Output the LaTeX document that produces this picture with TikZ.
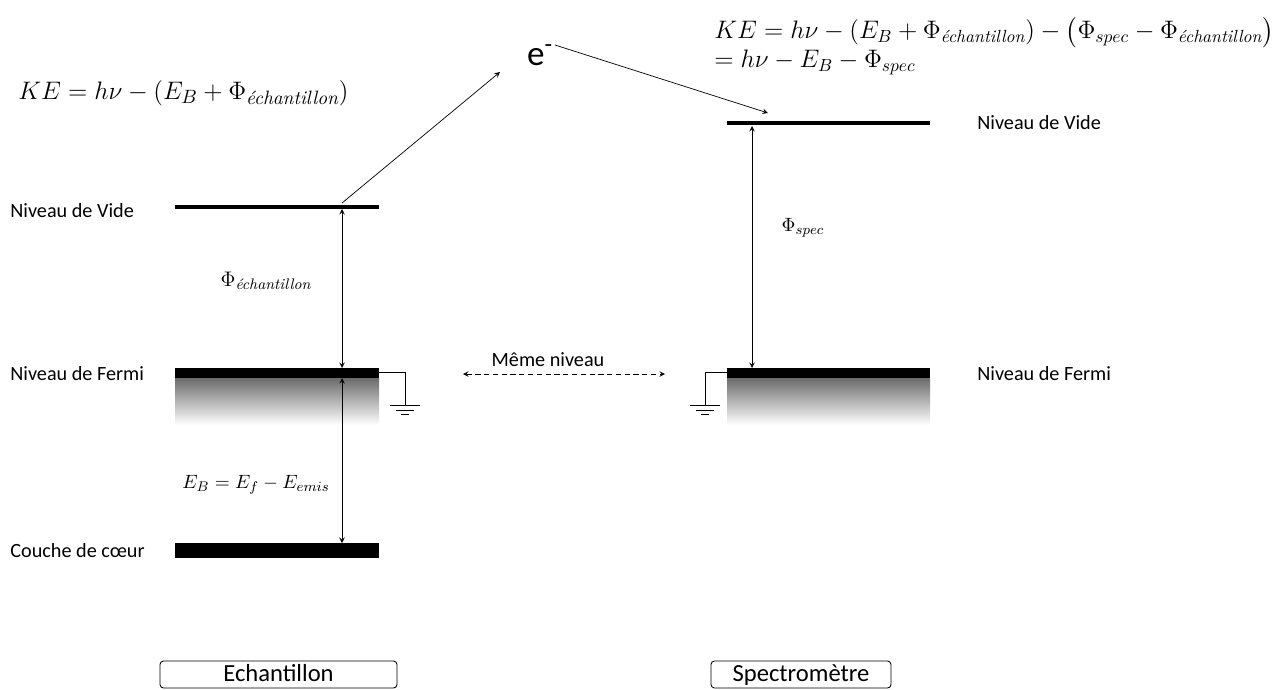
\documentclass[tikz,border=0pt]{standalone}
\usepackage{amsmath}
\usepackage{fontspec}
\newfontfamily\labelfont{Carlito}
\usetikzlibrary{positioning}
\definecolor{BandGray}{gray}{0.42}

\tikzset{
  lbl/.style={font=\labelfont\fontsize{11.5}{13}\selectfont,anchor=west,inner sep=0pt},
  eqn/.style={font=\fontsize{15.7}{18}\selectfont,anchor=west,inner sep=0pt},
  small eqn/.style={font=\fontsize{11}{13}\selectfont,inner sep=0pt},
  tag/.style={draw,rounded corners=2pt,line width=.5pt,inner sep=0pt,text height=10pt,text depth=2.5pt,
    font=\labelfont\fontsize{14}{16}\selectfont}
}

\begin{document}
\begin{tikzpicture}[x=0.02cm,y=-0.02cm,>=stealth]
  \useasboundingbox (0,0) rectangle (1279,690);
  % echantillon
  \coordinate (VL) at (342,209);\coordinate (FLt) at (342,368);
  \coordinate (FLb) at (342,378);\coordinate (CL) at (342,543);
  \coordinate (EL) at (342,203);\coordinate (GL) at (405,405);
  % spectrometre
  \coordinate (VR) at (752,126);\coordinate (FR) at (752,368);
  \coordinate (HR) at (768,113);\coordinate (GR) at (705,405);
  \coordinate (eIn) at (500,72);\coordinate (eOut) at (555,45);
  \shade[top color=BandGray,bottom color=white] (175,378) rectangle (379,425);
  \shade[top color=BandGray,bottom color=white] (727,378) rectangle (930,425);
  \draw[line width=2.8pt] (175,207)--(379,207);\draw[line width=2.8pt] (727,123)--(930,123);
  \fill (175,368) rectangle (379,378);\fill (727,368) rectangle (930,378);
  \fill (175,543) rectangle (379,558);
  % masses
  \draw (379,372) -| (GL);\draw (727,372) -| (GR);
  \foreach \G in {GL,GR}{
    \draw (\G) ++(-15,0) -- ++(30,0);
    \draw (\G) ++(-9,5) -- ++(18,0);
    \draw (\G) ++(-4,9) -- ++(8,0);}
  % fleches
  \draw[<->] (VL)--(FLt);\draw[<->] (FLb)--(CL);\draw[<->] (VR)--(FR);
  \node[font=\labelfont\fontsize{20}{22}\selectfont,inner sep=1pt] (e) at (540,55) {e\textsuperscript{-}};
  \draw[->] (EL)--(eIn);\draw[->] (eOut)--(HR);
  \coordinate (mL) at (463,374);\coordinate (mR) at (665,374);
  \draw[<->,densely dashed] (mL)--(mR);
  \node[lbl,anchor=south] (meme) at (548,367) {Même niveau};
  % textes
  \node[lbl] (vL) at (10,211) {Niveau de Vide};\node[lbl] (fL) at (10,374) {Niveau de Fermi};
  \node[lbl] (cL) at (10,551) {Couche de cœur};
  \node[lbl] (vR) at (977,123) {Niveau de Vide};\node[lbl] (fR) at (977,374) {Niveau de Fermi};
  \node[small eqn,font=\fontsize{12.5}{14}\selectfont] (phiL) at (266,281) {$\Phi_{\textit{échantillon}}$};
  \node[small eqn] (phiR) at (803,228) {$\Phi_{spec}$};
  \node[small eqn] (EB) at (256,485) {$E_B = E_f - E_{emis}$};
  \node[eqn] (keL) at (18,93) {$KE = h\nu - (E_B + \Phi_{\textit{échantillon}})$};
  \node[eqn,font=\fontsize{14.3}{16.5}\selectfont,align=left] (keR) at (714,46)
    {$KE = h\nu - (E_B + \Phi_{\textit{échantillon}}) - \bigl(\Phi_{spec} - \Phi_{\textit{échantillon}}\bigr)$\\
     $= h\nu - E_B - \Phi_{spec}$};
  \node[tag,minimum width=237*0.02cm,minimum height=27*0.02cm] (ech) at (278.5,674.5) {Echantillon};
  \node[tag,minimum width=180*0.02cm,minimum height=27*0.02cm] (spc) at (801,674.5) {Spectromètre};
\end{tikzpicture}
\end{document}
